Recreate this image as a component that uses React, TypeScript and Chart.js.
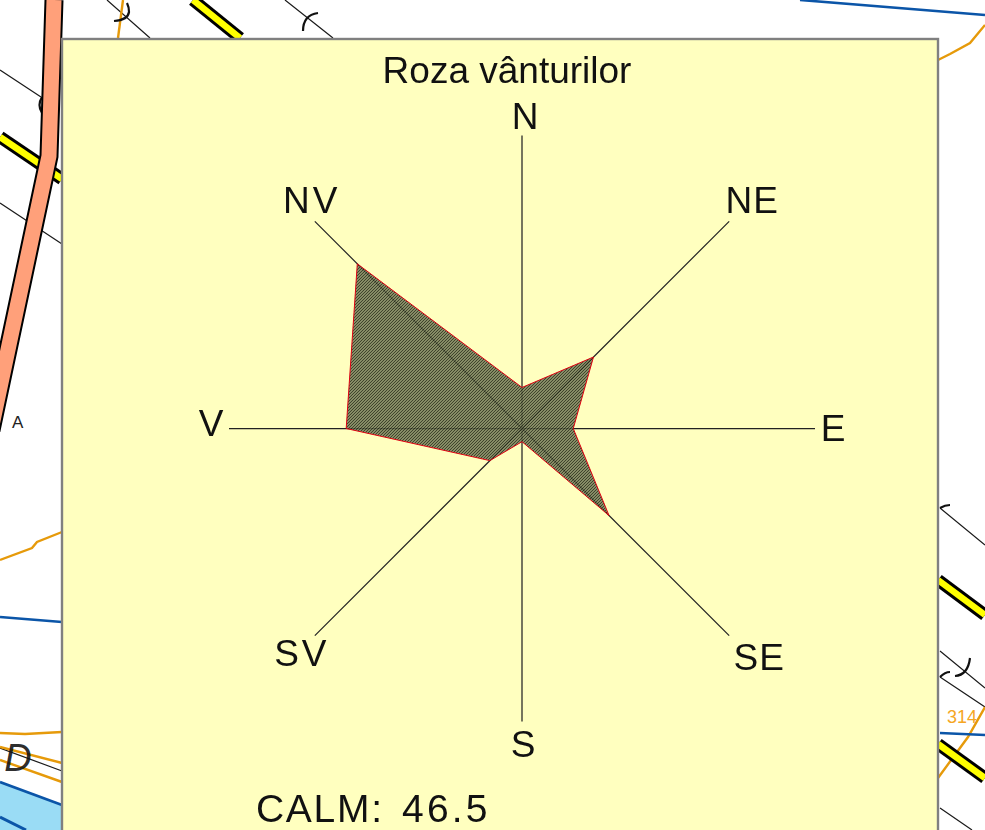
import React, { useEffect, useRef } from "react";
import { Chart, registerables } from "chart.js";

Chart.register(...registerables);

const directions = ["N", "NE", "E", "SE", "S", "SV", "V", "NV"];
const frequencies = [2.8, 6.9, 3.5, 8.4, 0.9, 3.1, 12.0, 15.9];
const calmLabel = "CALM:";
const calmValue = "46.5";
const chartTitle = "Roza vânturilor";
const scaleMax = 20;

// label offset from the end of each axis (text centre x, baseline y), and tracking
const labelOffsets = [
  [3, -6], [23, -8], [18, 13], [30, 35], [1, 36], [-13, 31], [-18, 8], [-3, -8],
];
const labelTracking = [0, 1, 0, 1, 0, 3, 0, 3];

const FONT = '"Liberation Sans", Arial, sans-serif';

function makeHatch(): CanvasPattern | string {
  const tile = document.createElement("canvas");
  tile.width = 3;
  tile.height = 3;
  const c = tile.getContext("2d");
  if (!c) return "#6b6b52";
  for (let y = 0; y < 3; y++) {
    for (let x = 0; x < 3; x++) {
      const k = (x + y) % 3;
      c.fillStyle = k === 0 ? "rgba(190,200,150,0.75)" : k === 1 ? "rgba(25,30,15,0.85)" : "rgba(45,50,30,0.9)";
      c.fillRect(x, y, 1, 1);
    }
  }
  return c.createPattern(tile, "repeat") || "#6b6b52";
}

const textPlugin = {
  id: "windRoseText",
  beforeDraw(chart: any) {
    chart.ctx.save();
    chart.ctx.translate(0, 0.5);
  },
  afterDraw(chart: any) {
    const ctx = chart.ctx;
    ctx.restore();
    const scale = chart.scales.r;
    ctx.save();
    ctx.fillStyle = "#111";
    ctx.textBaseline = "alphabetic";
    ctx.textAlign = "center";
    ctx.font = `37px ${FONT}`;
    directions.forEach((d, i) => {
      const p = scale.getPointPositionForValue(i, scaleMax);
      ctx.letterSpacing = `${labelTracking[i]}px`;
      ctx.fillText(d, p.x + labelOffsets[i][0], p.y + labelOffsets[i][1]);
    });
    ctx.letterSpacing = "0px";
    ctx.fillText(chartTitle, scale.xCenter - 15, 83);
    ctx.textAlign = "left";
    ctx.font = `39px ${FONT}`;
    ctx.letterSpacing = "1.7px";
    ctx.fillText(calmLabel, 256, 822);
    ctx.letterSpacing = "3.2px";
    ctx.fillText(calmValue, 402, 822);
    ctx.restore();
  },
};

function MapBackground() {
  const thin = { stroke: "#1a1a1a", strokeWidth: 1.2, fill: "none" };
  const arc = { stroke: "#111", strokeWidth: 2.2, fill: "none" };
  const orange = { stroke: "#E69A0A", strokeWidth: 2.4, fill: "none" };
  const blue = { stroke: "#0B55A8", strokeWidth: 2.6, fill: "none" };
  const road = (d: string) => (
    <g key={d} fill="none">
      <path d={d} stroke="#000" strokeWidth={12.5} />
      <path d={d} stroke="#FFFF00" strokeWidth={6.5} />
    </g>
  );
  return (
    <svg width={985} height={830} style={{ position: "absolute", left: 0, top: 0 }}>
      <rect width={985} height={830} fill="#fff" />
      <path d="M0 782 L62 805 L62 830 L0 830 Z" fill="#9ADCF5" />
      <path d="M0 782 L62 805" {...blue} />
      <path d="M0 817 L26 830" {...blue} strokeWidth={3} />
      <path d="M0 70 L41 97 M0 203 L62 244 M0 748 L62 771" {...thin} />
      <path d="M107 0 L150 38 M285 0 L333 38" {...thin} />
      <path d="M940 508 L985 545 M940 651 L985 688 M940 677 L985 707 M940 808 L972 830" {...thin} />
      <path d="M123 0 L118 38" {...orange} />
      <path d="M985 25 L970 43 L950 54 L938 60" {...orange} />
      <path d="M0 560 L32 548 L37 542 L62 532" {...orange} />
      <path d="M0 733 L25 734 L62 732 M0 747 L62 763 M0 760 L62 782" {...orange} />
      <path d="M938 778 L968 737 L985 707" {...orange} />
      <path d="M800 0 L985 15 M0 617 L62 622 M940 733 L985 735" {...blue} />
      {road("M193 0 L240 38")}
      {road("M0 137 L62 179")}
      {road("M938 580 L985 615")}
      {road("M938 744 L985 778")}
      <path d="M114 21 Q128 20 129 12 Q129 7 127 3" {...arc} />
      <path d="M303 31 Q303 15 318 13" {...arc} />
      <path d="M940 508 Q945 505 950 505" {...arc} />
      <path d="M940 677 Q945 672 950 672 M955 676 Q968 675 970 658" {...arc} />
      <path d="M42 97 Q37 105 42 113" {...arc} />
      <path d="M54 0 L49 156 L-9 430" fill="none" stroke="#000" strokeWidth={19} />
      <path d="M54 0 L49 156 L-9 430" fill="none" stroke="#FFA07A" strokeWidth={15} />
      <text x={12} y={428} fontFamily={FONT} fontSize={17} fill="#222">A</text>
      <text x={962} y={723} textAnchor="middle" fontFamily={FONT} fontSize={18} fill="#F5A623">314</text>
      <text x={18} y={771} textAnchor="middle" fontFamily={FONT} fontSize={38} fontStyle="italic" fill="#111" fillOpacity={0.9}>D</text>
      <rect x={62} y={39} width={876} height={800} fill="#FFFFBF" stroke="#808080" strokeWidth={2.4} />
    </svg>
  );
}

export default function App() {
  const ref = useRef<HTMLCanvasElement>(null);
  useEffect(() => {
    if (!ref.current) return;
    const chart = new Chart(ref.current, {
      type: "radar",
      data: {
        labels: directions,
        datasets: [
          {
            data: frequencies,
            backgroundColor: makeHatch(),
            borderColor: "#E00010",
            borderWidth: 1,
            pointRadius: 0,
            fill: true,
            tension: 0,
          },
        ],
      },
      options: {
        animation: false,
        responsive: false,
        layout: { padding: { left: 229, right: 170, top: 135, bottom: 109 } },
        plugins: { legend: { display: false }, tooltip: { enabled: false }, title: { display: false } },
        scales: {
          r: {
            z: 1,
            min: 0,
            max: scaleMax,
            grid: { display: false },
            ticks: { display: false },
            pointLabels: { display: false },
            angleLines: { display: true, color: "#222", lineWidth: 1.25 },
          },
        },
      },
      plugins: [textPlugin],
    } as any);
    return () => chart.destroy();
  }, []);
  return (
    <div style={{ position: "fixed", left: 0, top: 0, width: 985, height: 830, overflow: "hidden", background: "#fff" }}>
      <MapBackground />
      <canvas ref={ref} width={985} height={830} style={{ position: "absolute", left: 0, top: 0, display: "block" }} />
    </div>
  );
}
